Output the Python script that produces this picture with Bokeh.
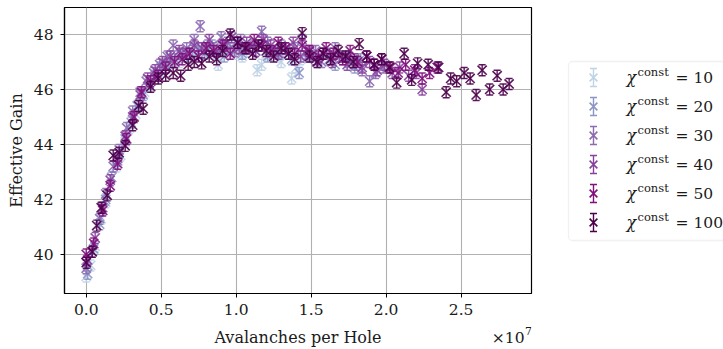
import numpy as np
from bokeh.plotting import figure
from bokeh.layouts import row, column
from bokeh.models import (ColumnDataSource, Range1d, FixedTicker, PrintfTickFormatter,
                          BoxAnnotation)
from bokeh.core.properties import value
from bokeh.embed import file_html
from bokeh.resources import INLINE

# Effective gain versus avalanches per hole (x in units of 1e7), one series per chi^const
chi_values = [10, 20, 30, 40, 50, 100]
colors = ["#bfd3e6", "#8c96c6", "#8c6bb1", "#88419d", "#810f7c", "#4d004b"]
gain_err = [0.2, 0.2, 0.2, 0.2, 0.2, 0.2]

aval_10 = [0.00, 0.03, 0.06, 0.10, 0.13, 0.16, 0.20, 0.23, 0.26, 0.29,
           0.33, 0.36, 0.39, 0.42, 0.46, 0.49, 0.52, 0.55, 0.59, 0.62,
           0.65, 0.68, 0.72, 0.75, 0.78, 0.81, 0.85, 0.88, 0.91, 0.94,
           0.98, 1.01, 1.04, 1.07, 1.11, 1.14, 1.17, 1.20, 1.24, 1.27,
           1.30, 1.33, 1.37, 1.40, 1.43]
gain_10 = [39.2, 39.6, 40.3, 41.3, 41.9, 42.5, 43.2, 43.6, 44.1, 44.6,
           45.1, 45.5, 45.9, 46.1, 46.4, 46.6, 46.8, 46.9, 47.1, 47.0,
           47.2, 47.3, 47.2, 47.4, 47.3, 47.5, 47.3, 46.9, 47.4, 47.6,
           47.3, 47.5, 47.2, 47.4, 47.6, 46.7, 46.9, 47.3, 47.4, 47.2,
           47.0, 47.3, 46.4, 46.8, 47.1]

aval_20 = [0.01, 0.05, 0.09, 0.13, 0.17, 0.21, 0.26, 0.30, 0.34, 0.38,
           0.42, 0.46, 0.50, 0.55, 0.59, 0.63, 0.67, 0.71, 0.75, 0.79,
           0.84, 0.88, 0.92, 0.96, 1.00, 1.04, 1.08, 1.13, 1.17, 1.21,
           1.25, 1.29, 1.33, 1.37, 1.42, 1.46, 1.50, 1.54, 1.58, 1.62,
           1.66, 1.71, 1.75, 1.79, 1.83]
gain_20 = [39.3, 40.2, 41.1, 42.0, 42.8, 43.4, 44.2, 44.8, 45.4, 45.8,
           46.2, 46.5, 46.8, 47.0, 47.1, 47.3, 47.2, 47.4, 47.5, 47.3,
           47.6, 47.4, 47.2, 47.5, 47.7, 47.3, 47.5, 47.4, 47.6, 47.2,
           47.4, 47.3, 47.5, 47.1, 46.6, 47.3, 47.2, 47.0, 47.3, 47.1,
           46.9, 47.2, 47.0, 46.8, 47.1]

aval_30 = [0.00, 0.04, 0.09, 0.13, 0.18, 0.22, 0.27, 0.31, 0.36, 0.40,
           0.45, 0.49, 0.54, 0.58, 0.63, 0.67, 0.72, 0.76, 0.81, 0.85,
           0.90, 0.94, 0.99, 1.03, 1.08, 1.12, 1.17, 1.21, 1.26, 1.30,
           1.35, 1.39, 1.44, 1.48, 1.53, 1.57, 1.62, 1.66, 1.71, 1.75,
           1.80, 1.84, 1.89, 1.93, 1.98]
gain_30 = [39.5, 40.1, 41.3, 42.2, 43.2, 43.8, 44.6, 45.2, 45.9, 46.3,
           46.6, 46.9, 47.2, 47.6, 47.3, 47.5, 47.8, 48.3, 47.6, 47.5,
           47.9, 47.7, 47.4, 47.8, 47.5, 47.6, 48.1, 47.7, 47.4, 47.6,
           47.3, 47.5, 47.8, 47.2, 47.4, 47.0, 47.3, 47.5, 47.1, 47.2,
           46.9, 46.7, 46.3, 46.6, 46.8]

aval_40 = [0.01, 0.06, 0.11, 0.16, 0.21, 0.26, 0.31, 0.36, 0.41, 0.46,
           0.51, 0.56, 0.62, 0.67, 0.72, 0.77, 0.82, 0.87, 0.92, 0.97,
           1.02, 1.07, 1.13, 1.18, 1.23, 1.28, 1.33, 1.38, 1.43, 1.48,
           1.53, 1.58, 1.64, 1.69, 1.74, 1.79, 1.84, 1.89, 1.94, 1.99,
           2.04, 2.09, 2.15, 2.20, 2.24]
gain_40 = [39.8, 40.6, 41.7, 42.7, 43.5, 44.3, 45.0, 45.8, 46.4, 46.7,
           47.0, 47.2, 47.4, 47.3, 47.6, 47.5, 47.8, 47.4, 47.6, 47.9,
           47.5, 47.7, 47.4, 47.8, 47.6, 47.3, 47.5, 47.7, 47.2, 47.4,
           47.1, 47.3, 47.0, 47.2, 46.9, 47.1, 46.8, 47.0, 46.7, 46.9,
           46.6, 46.8, 46.5, 46.6, 46.0]

aval_50 = [0.00, 0.05, 0.11, 0.16, 0.21, 0.27, 0.32, 0.37, 0.43, 0.48,
           0.53, 0.59, 0.64, 0.69, 0.75, 0.80, 0.85, 0.91, 0.96, 1.01,
           1.07, 1.12, 1.17, 1.23, 1.28, 1.33, 1.39, 1.44, 1.49, 1.55,
           1.60, 1.65, 1.71, 1.76, 1.81, 1.87, 1.92, 1.97, 2.03, 2.08,
           2.13, 2.19, 2.24, 2.29, 2.34]
gain_50 = [40.0, 40.4, 41.6, 42.5, 43.3, 44.2, 45.0, 45.9, 46.3, 46.5,
           46.8, 47.0, 47.1, 47.3, 47.2, 47.5, 47.4, 47.6, 47.3, 47.7,
           47.5, 47.8, 47.6, 47.4, 47.7, 47.5, 47.3, 47.6, 47.4, 47.2,
           47.5, 47.3, 47.1, 47.4, 47.0, 47.2, 46.9, 47.1, 46.8, 46.6,
           46.9, 46.7, 46.4, 46.6, 46.8]

aval_100 = [0.00, 0.04, 0.07, 0.10, 0.14, 0.18, 0.22, 0.26, 0.31, 0.35,
            0.38, 0.43, 0.48, 0.53, 0.58, 0.63, 0.68, 0.72, 0.77, 0.82,
            0.87, 0.91, 0.96, 1.01, 1.06, 1.11, 1.15, 1.20, 1.25, 1.30,
            1.35, 1.39, 1.44, 1.49, 1.54, 1.58, 1.63, 1.68, 1.73, 1.78,
            1.82, 1.87, 1.92, 1.97, 2.02, 2.07, 2.12, 2.17, 2.21, 2.28,
            2.35, 2.40, 2.43, 2.47, 2.52, 2.56, 2.60, 2.64, 2.69, 2.74,
            2.78, 2.82]
gain_100 = [39.7, 40.1, 41.05, 41.7, 42.15, 43.6, 43.7, 43.95, 44.7, 45.4,
            45.3, 46.1, 46.4, 46.5, 46.6, 46.5, 46.9, 47.0, 46.95, 47.2,
            47.1, 47.4, 48.0, 47.7, 47.5, 47.3, 47.6, 47.4, 47.2, 47.5,
            47.3, 47.1, 48.05, 47.2, 47.0, 47.3, 47.1, 47.4, 47.2, 47.0,
            47.65, 47.2, 46.9, 47.1, 46.8, 46.25, 47.3, 46.35, 46.95, 46.9,
            46.8, 45.9, 46.4, 46.3, 46.6, 46.4, 45.8, 46.7, 46.0, 46.5,
            46.0, 46.2]

x_ticks = [0.0, 0.5, 1.0, 1.5, 2.0, 2.5]
y_ticks = [40, 42, 44, 46, 48]
x_label = "Avalanches per Hole"
y_label = "Effective Gain"
x_exponent = 7

aval_series = [aval_10, aval_20, aval_30, aval_40, aval_50, aval_100]
gain_series = [gain_10, gain_20, gain_30, gain_40, gain_50, gain_100]

FONT = "DejaVu Serif"
TEXT = "#1a1a1a"

# panel geometry (pixels)
MAIN_W, MAIN_H, STRIP_H, LEG_W = 545, 321, 28, 178
LEFT, RIGHT, TOP, BOTTOM = 64, 14, 7, 28
FRAME_W = MAIN_W - LEFT - RIGHT

p = figure(width=MAIN_W, height=MAIN_H,
           x_range=Range1d(-0.1447, 2.969), y_range=Range1d(38.58, 48.98),
           output_backend="svg", toolbar_location=None,
           min_border_left=LEFT, min_border_right=RIGHT,
           min_border_top=TOP, min_border_bottom=BOTTOM)
p.background_fill_color = "white"
p.border_fill_color = "white"
p.outline_line_color = "black"
p.outline_line_width = 1.2

p.xaxis.ticker = FixedTicker(ticks=x_ticks)
p.xaxis.formatter = PrintfTickFormatter(format="%.1f")
p.yaxis.ticker = FixedTicker(ticks=y_ticks)
p.yaxis.axis_label = y_label
for ax in (p.xaxis[0], p.yaxis[0]):
    ax.major_label_text_font = FONT
    ax.major_label_text_font_size = "15.5px"
    ax.major_label_text_color = TEXT
    ax.axis_label_text_font = FONT
    ax.axis_label_text_font_size = "16px"
    ax.axis_label_text_font_style = "normal"
    ax.axis_label_text_color = TEXT
    ax.major_tick_in = 0
    ax.major_tick_out = 4
    ax.minor_tick_in = 0
    ax.minor_tick_out = 0
    ax.major_tick_line_color = "black"
    ax.axis_line_color = "black"
    ax.axis_line_width = 1.2
p.xaxis.major_label_standoff = 6
p.yaxis.major_label_standoff = 7
p.grid.grid_line_color = "#b0b0b0"
p.grid.grid_line_width = 1.1

for aval, gain, err, color in zip(aval_series, gain_series, gain_err, colors):
    x = np.array(aval)
    y = np.array(gain)
    src = ColumnDataSource(dict(x=x, y=y, lo=y - err, hi=y + err))
    p.segment(x0="x", y0="lo", x1="x", y1="hi", source=src,
              line_color=color, line_width=1.4, line_alpha=0.9)
    p.scatter(x="x", y="lo", source=src, marker="dash", size=7,
              line_color=color, line_width=1.4, line_alpha=0.9)
    p.scatter(x="x", y="hi", source=src, marker="dash", size=7,
              line_color=color, line_width=1.4, line_alpha=0.9)
    p.scatter(x="x", y="y", source=src, marker="x", size=13,
              line_color=color, line_width=1.6, line_alpha=0.9)

# strip under the x axis: axis title and the x10^7 multiplier.
# In the column its frame lines up with the main frame, so x runs over the frame width.
strip = figure(width=MAIN_W, height=STRIP_H, x_range=Range1d(0, FRAME_W),
               y_range=Range1d(STRIP_H, 0), output_backend="svg", toolbar_location=None,
               x_axis_location=None, y_axis_location=None, min_border=0)
strip.grid.visible = False
strip.outline_line_color = None
strip.text(x=[FRAME_W / 2], y=[16], text=[x_label], text_font=value(FONT),
           text_font_size="16px", text_color=TEXT, text_align="center",
           text_baseline="alphabetic")
strip.text(x=[FRAME_W - 7], y=[16], text=["×10"], text_font=value(FONT),
           text_font_size="15.5px", text_color=TEXT, text_align="right",
           text_baseline="alphabetic")
strip.text(x=[FRAME_W - 6.5], y=[9], text=[str(x_exponent)], text_font=value(FONT),
           text_font_size="11px", text_color=TEXT, text_align="left",
           text_baseline="alphabetic")

# legend panel drawn in pixel coordinates
leg = figure(width=LEG_W, height=MAIN_H + STRIP_H, x_range=Range1d(0, LEG_W),
             y_range=Range1d(MAIN_H + STRIP_H, 0),
             output_backend="svg", toolbar_location=None,
             x_axis_location=None, y_axis_location=None, min_border=0)
leg.grid.visible = False
leg.outline_line_color = None
leg.background_fill_color = "white"
leg.border_fill_color = "white"
leg.add_layout(BoxAnnotation(left=23, right=LEG_W + 40, top=61, bottom=240,
                             fill_color="white", fill_alpha=1.0, level="underlay",
                             line_color="#d0d0d0", line_width=1.3, border_radius=4))

n = len(chi_values)
row_y = np.array([77 + 29 * i for i in range(n)], dtype=float)
lsrc = ColumnDataSource(dict(x=np.full(n, 48.0), y=row_y, lo=row_y - 9, hi=row_y + 9,
                             c=colors,
                             tx=np.full(n, 81.0), sx=np.full(n, 92.0), ex=np.full(n, 130.0),
                             base=row_y, sup=row_y - 6,
                             chi=["χ"] * n, const=["const"] * n,
                             eq=[f"= {v}" for v in chi_values]))
leg.segment(x0="x", y0="lo", x1="x", y1="hi", source=lsrc, line_color="c", line_width=1.4)
leg.scatter(x="x", y="lo", source=lsrc, marker="dash", size=7, line_color="c", line_width=1.4)
leg.scatter(x="x", y="hi", source=lsrc, marker="dash", size=7, line_color="c", line_width=1.4)
leg.scatter(x="x", y="y", source=lsrc, marker="x", size=11, line_color="c", line_width=1.6)
leg.text(x="tx", y="base", text="chi", source=lsrc, text_font=value(FONT),
         text_font_style="italic", text_font_size="16px", text_color=TEXT,
         text_baseline="alphabetic", text_align="left")
leg.text(x="sx", y="sup", text="const", source=lsrc, text_font=value(FONT),
         text_font_size="11.5px", text_color=TEXT,
         text_baseline="alphabetic", text_align="left")
leg.text(x="ex", y="base", text="eq", source=lsrc, text_font=value(FONT),
         text_font_size="15.5px", text_color=TEXT,
         text_baseline="alphabetic", text_align="left")

layout = row(column(p, strip, spacing=0), leg, spacing=0)
open("out.html", "w").write(file_html(layout, INLINE))
